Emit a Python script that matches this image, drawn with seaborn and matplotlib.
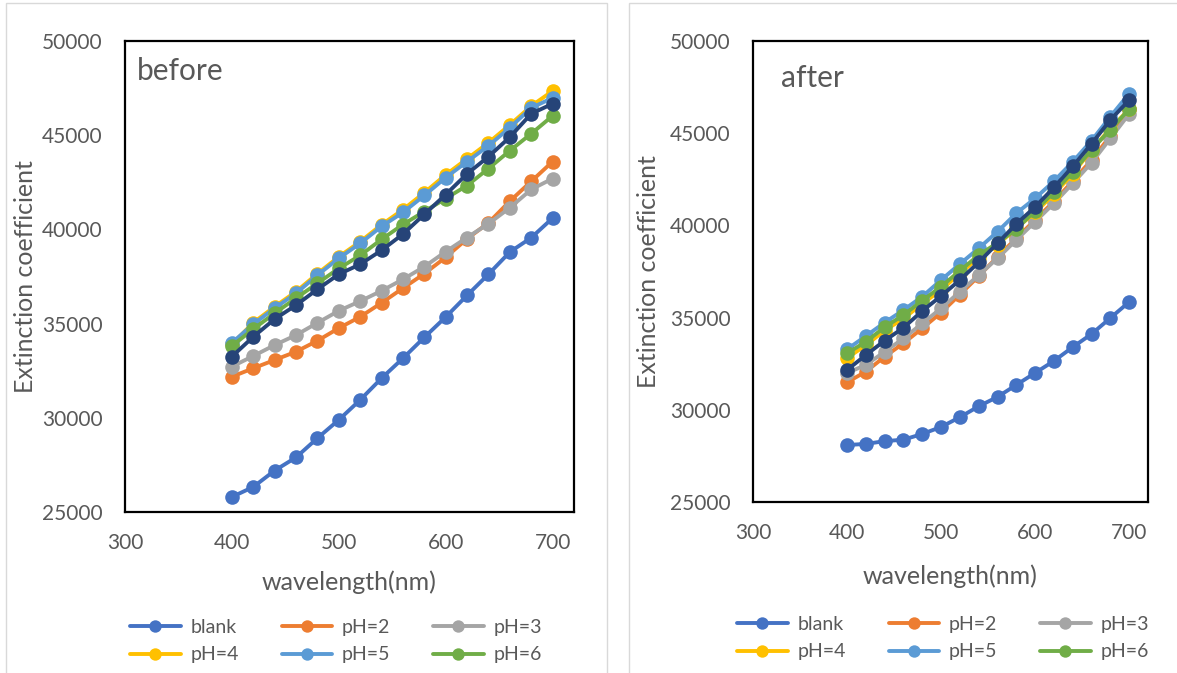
import numpy as np
import pandas as pd
import matplotlib
matplotlib.use('Agg')
import matplotlib.pyplot as plt
import seaborn as sns
from matplotlib.patches import Rectangle

wavelength = [400, 420, 440, 460, 480, 500, 520, 540, 560, 580, 600, 620, 640, 660, 680, 700]
series = ['blank', 'pH=2', 'pH=3', 'pH=4', 'pH=5', 'pH=6', 'pH=7']
colors = ['#4472C4', '#ED7D31', '#A5A5A5', '#FFC000', '#5B9BD5', '#70AD47', '#264478']

# before
before_blank = [25800, 26330, 27200, 27900, 28920, 29890, 30950, 32100, 33160, 34270, 35350, 36500, 37620, 38800, 39560, 40600]
before_ph2 = [32180, 32630, 33070, 33510, 34090, 34760, 35360, 36100, 36880, 37650, 38520, 39500, 40350, 41500, 42550, 43600]
before_ph3 = [32720, 33280, 33860, 34390, 35040, 35680, 36190, 36740, 37350, 38020, 38820, 39570, 40300, 41150, 42120, 42700]
before_ph4 = [33900, 35050, 35900, 36700, 37650, 38550, 39350, 40250, 41050, 41950, 42900, 43750, 44600, 45550, 46550, 47350]
before_ph5 = [33980, 34970, 35820, 36610, 37570, 38470, 39260, 40160, 40900, 41800, 42750, 43600, 44440, 45400, 46450, 46980]
before_ph6 = [33810, 34710, 35550, 36350, 37140, 37930, 38620, 39470, 40260, 40950, 41640, 42330, 43230, 44180, 45080, 46030]
before_ph7 = [33250, 34300, 35240, 35980, 36820, 37620, 38150, 38890, 39750, 40800, 41850, 42950, 43860, 44900, 46140, 46670]

# after
after_blank = [28090, 28150, 28300, 28380, 28690, 29070, 29600, 30190, 30700, 31350, 32000, 32650, 33400, 34110, 34980, 35850]
after_ph2 = [31490, 32070, 32880, 33610, 34420, 35270, 36250, 37250, 38300, 39300, 40300, 41300, 42400, 43550, 44850, 46300]
after_ph3 = [32000, 32430, 33150, 33870, 34690, 35500, 36410, 37300, 38220, 39210, 40200, 41200, 42280, 43400, 44720, 46050]
after_ph4 = [32810, 33500, 34300, 34950, 35750, 36500, 37400, 38250, 38950, 39850, 40700, 41700, 42800, 44100, 45250, 46300]
after_ph5 = [33280, 34000, 34730, 35410, 36140, 37040, 37910, 38760, 39660, 40660, 41470, 42400, 43450, 44600, 45900, 47150]
after_ph6 = [33060, 33690, 34480, 35140, 35920, 36680, 37540, 38390, 39050, 39800, 40800, 41800, 42900, 44100, 45200, 46300]
after_ph7 = [32160, 32970, 33750, 34450, 35360, 36170, 37040, 38000, 39030, 40080, 41000, 42060, 43200, 44430, 45720, 46800]

before = [before_blank, before_ph2, before_ph3, before_ph4, before_ph5, before_ph6, before_ph7]
after = [after_blank, after_ph2, after_ph3, after_ph4, after_ph5, after_ph6, after_ph7]


def toFrame(values):
    rows = []
    for name, vals in zip(series, values):
        for w, v in zip(wavelength, vals):
            rows.append((w, v, name))
    return pd.DataFrame(rows, columns=['wavelength', 'value', 'series'])


sns.set_theme(style='white')
plt.rcParams['font.family'] = ['Lato', 'DejaVu Sans']
grey = '#595959'

W, H = 1177, 673
fig = plt.figure(figsize=(W / 100, H / 100), dpi=100)

# chart-area frames like excel
for x0, x1 in [(6, 607), (629, 1180)]:
    fig.patches.append(Rectangle((x0 / W, -0.1), (x1 - x0) / W, 1.1 - 3 / H,
                                 transform=fig.transFigure, fill=False,
                                 edgecolor='#D9D9D9', linewidth=1.0))

panels = [
    (before, 'before', [125 / W, 1 - 512 / H, 449 / W, 471 / H], (0.026, 0.965), -0.196, -0.125, 336, 641),
    (after, 'after', [753 / W, 1 - 502 / H, 395 / W, 461 / H], (0.071, 0.95), -0.235, -0.135, 943, 638),
]

for values, title, rect, tpos, ylx, xly, legx, legy in panels:
    ax = fig.add_axes(rect)
    df = toFrame(values)
    sns.lineplot(data=df, x='wavelength', y='value', hue='series', hue_order=series,
                 palette=colors, marker='o', markersize=10.5, markeredgewidth=0,
                 linewidth=2.8, legend=False, errorbar=None, ax=ax)
    ax.set_xlim(300, 720)
    ax.set_ylim(25000, 50000)
    ax.set_xticks([300, 400, 500, 600, 700])
    ax.set_yticks([25000, 30000, 35000, 40000, 45000, 50000])
    ax.tick_params(axis='both', length=0, labelsize=15, labelcolor=grey)
    ax.tick_params(axis='y', pad=16)
    ax.tick_params(axis='x', pad=15)
    for s in ax.spines.values():
        s.set_visible(True)
        s.set_color('black')
        s.set_linewidth(1.6)
    ax.set_xlabel('wavelength(nm)', fontsize=18, color=grey)
    ax.set_ylabel('Extinction coefficient', fontsize=18, color=grey)
    ax.xaxis.set_label_coords(0.5, xly)
    ax.yaxis.set_label_coords(ylx, 0.5)
    ax.text(tpos[0], tpos[1], title, transform=ax.transAxes, fontsize=21.5,
            color=grey, ha='left', va='top')

    handles = ax.lines[:6]
    order = [0, 3, 1, 4, 2, 5]
    ax.legend([handles[i] for i in order], [series[i] for i in order], ncol=3,
              loc='center', bbox_to_anchor=(legx / W, 1 - legy / H),
              bbox_transform=fig.transFigure, frameon=False, fontsize=14,
              labelcolor=grey, handlelength=2.6, columnspacing=2.2,
              handletextpad=0.5, labelspacing=0.55, markerscale=0.85)

fig.savefig('out.png', dpi=100)
